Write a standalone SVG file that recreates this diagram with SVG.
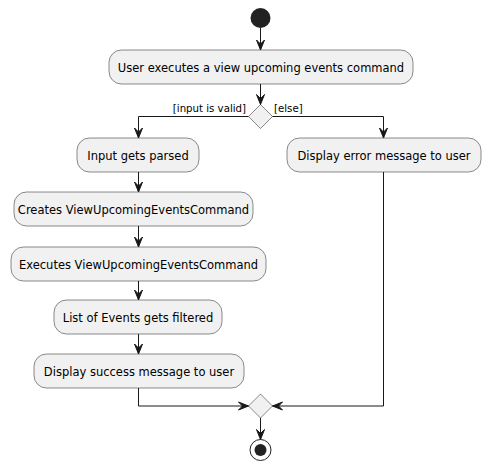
<svg xmlns="http://www.w3.org/2000/svg" width="490" height="470" viewBox="0 0 490 470">
<style>
.act{fill:#F1F1F1;stroke:#181818;stroke-width:0.5}
.t{font-family:"DejaVu Sans",sans-serif;font-size:11.5px;fill:#000;text-anchor:middle}
.l{font-family:"DejaVu Sans",sans-serif;font-size:10.2px;fill:#000}
.c{fill:none;stroke:#181818;stroke-width:1}
.ah{fill:#181818;stroke:#181818;stroke-width:1}
</style>
<defs>
<polygon id="ad" points="-4,-10 0,0 4,-10 0,-6"/>
</defs>
<rect width="490" height="470" fill="#FFFFFF"/>
<g id="start"><circle cx="260.5" cy="18" r="10" fill="#222222"/></g>
<g id="n1"><rect class="act" x="109" y="50" width="304" height="34" rx="12.5"/><text class="t" x="261" y="71.5">User executes a view upcoming events command</text></g>
<g id="d1"><polygon class="act" points="260.5,104.5 272.5,116.5 260.5,128.5 248.5,116.5"/></g>
<g id="n2"><rect class="act" x="77" y="138" width="122" height="34" rx="12.5"/><text class="t" x="138" y="159.5">Input gets parsed</text></g>
<g id="n3"><rect class="act" x="287" y="138" width="194" height="34" rx="12.5"/><text class="t" x="384" y="159.5">Display error message to user</text></g>
<g id="n4"><rect class="act" x="14" y="192" width="239" height="34" rx="12.5"/><text class="t" x="133.5" y="213.5">Creates ViewUpcomingEventsCommand</text></g>
<g id="n5"><rect class="act" x="11" y="247" width="255" height="34" rx="12.5"/><text class="t" x="138.5" y="268.5">Executes ViewUpcomingEventsCommand</text></g>
<g id="n6"><rect class="act" x="54" y="300" width="168" height="34" rx="12.5"/><text class="t" x="138" y="321.5">List of Events gets filtered</text></g>
<g id="n7"><rect class="act" x="34" y="354" width="210" height="34" rx="12.5"/><text class="t" x="139" y="375.5">Display success message to user</text></g>
<g id="d2"><polygon class="act" points="260.5,394 272.5,406 260.5,418 248.5,406"/></g>
<g id="end"><circle cx="260.5" cy="450" r="10.5" fill="none" stroke="#222222" stroke-width="1"/><circle cx="260.5" cy="450" r="6" fill="#222222"/></g>
<g id="connectors">
<path class="c" d="M260.5,28 V50"/><use href="#ad" class="ah" x="260.5" y="50"/>
<path class="c" d="M260.5,84 V104.5"/><use href="#ad" class="ah" x="260.5" y="104.5"/>
<path class="c" d="M248.5,116.5 H138.5 V138"/><use href="#ad" class="ah" x="138.5" y="138"/>
<path class="c" d="M272.5,116.5 H383.5 V138"/><use href="#ad" class="ah" x="383.5" y="138"/>
<path class="c" d="M138.5,172 V192"/><use href="#ad" class="ah" x="138.5" y="192"/>
<path class="c" d="M138.5,226 V247"/><use href="#ad" class="ah" x="138.5" y="247"/>
<path class="c" d="M138.5,281 V300"/><use href="#ad" class="ah" x="138.5" y="300"/>
<path class="c" d="M138.5,334 V354"/><use href="#ad" class="ah" x="138.5" y="354"/>
<path class="c" d="M138.5,388 V406 H248.5"/><use href="#ad" class="ah" transform="translate(248.5,406) rotate(-90)"/>
<path class="c" d="M383.5,172 V406 H272.5"/><use href="#ad" class="ah" transform="translate(272.5,406) rotate(90)"/>
<path class="c" d="M260.5,418 V439.5"/><use href="#ad" class="ah" x="260.5" y="439.5"/>
<text class="l" x="246" y="112" text-anchor="end">[input is valid]</text>
<text class="l" x="274" y="112">[else]</text>
</g>
</svg>
